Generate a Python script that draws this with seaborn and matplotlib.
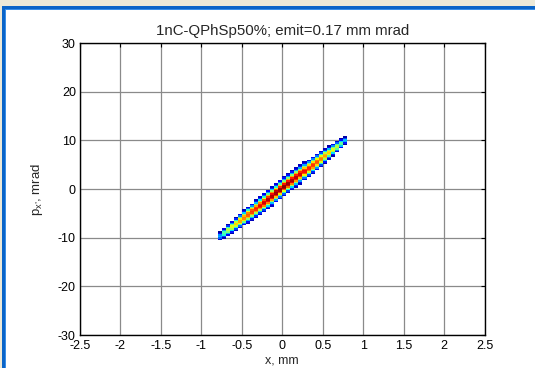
import numpy as np
import pandas as pd
import matplotlib
matplotlib.use("Agg")
import matplotlib.pyplot as plt
from matplotlib.patches import Rectangle
import seaborn as sns

# ---- data ----
title = "1nC-QPhSp50%; emit=0.17 mm mrad"
xlabel = "x, mm"
ylabel = "p$_{\\mathregular{x\u2019}}$, mrad"
xticks = [-2.5, -2, -1.5, -1, -0.5, 0, 0.5, 1, 1.5, 2, 2.5]
xtick_labels = ["-2.5", "-2", "-1.5", "-1", "-0.5", "0", "0.5", "1", "1.5", "2", "2.5"]
yticks = [-30, -20, -10, 0, 10, 20, 30]
ytick_labels = ["-30", "-20", "-10", "0", "10", "20", "30"]

# beam ridge, read along its length
ridge_x = [-0.80, -0.70, -0.55, -0.40, -0.20, 0.00, 0.20, 0.40, 0.55, 0.70, 0.78]
ridge_p = [-10.0, -8.8, -6.9, -5.0, -2.5, 0.2, 2.7, 5.2, 7.1, 9.0, 10.0]
ridge_amp = [0.22, 0.55, 0.72, 0.84, 0.94, 1.00, 0.94, 0.84, 0.72, 0.55, 0.30]
ridge_halfwidth = [0.8, 1.15, 1.5, 1.8, 2.0, 2.05, 2.0, 1.8, 1.5, 1.15, 0.8]

# histogram bins
xbin = 0.05
pbin = 0.3

# ---- build the 2D histogram table ----
xc = np.arange(-2.5 + xbin / 2, 2.5, xbin)
pc = np.arange(-30 + pbin / 2, 30, pbin)
rows = []
for x in xc:
    if x < ridge_x[0] - 0.02 or x > ridge_x[-1] + 0.02:
        continue
    cen = np.interp(x, ridge_x, ridge_p)
    amp = np.interp(x, ridge_x, ridge_amp)
    hw = np.interp(x, ridge_x, ridge_halfwidth)
    for p in pc:
        d = abs(p - cen)
        if d <= hw:
            rows.append((x, p, amp * np.exp(-3.0 * (d / hw) ** 2.5)))
df = pd.DataFrame(rows, columns=["x", "p", "w"])

# ---- figure ----
sns.set_style("white")
plt.rcParams["font.family"] = ["Liberation Sans", "DejaVu Sans"]
plt.rcParams["mathtext.fontset"] = "custom"
plt.rcParams["mathtext.rm"] = "Liberation Sans"
plt.rcParams["mathtext.it"] = "Liberation Sans:italic"

W, H = 535, 368
fig = plt.figure(figsize=(W / 100, H / 100), dpi=100)
fig.patch.set_facecolor("white")

# window frame (beige strip + blue border)
def px_rect(x0, y0, x1, y1, color):
    fig.patches.append(Rectangle((x0 / W, 1 - y1 / H), (x1 - x0) / W, (y1 - y0) / H,
                                 transform=fig.transFigure, color=color, lw=0, zorder=-5))
px_rect(0, 0, W, 6, "#ece9d8")
px_rect(0, 0, 2, H, "#ece9d8")
px_rect(2, 6, W, 9, "#0a64c8")
px_rect(2, 9, W, 10, "#3a8ee6")
px_rect(2, 6, 4.7, H, "#0a64c8")
px_rect(4.7, 9, 5.7, H, "#3a8ee6")

ax_l, ax_r, ax_t, ax_b = 80, 484.5, 43, 335
ax = fig.add_axes([ax_l / W, 1 - ax_b / H, (ax_r - ax_l) / W, (ax_b - ax_t) / H])
ax.set_facecolor("white")

sns.histplot(data=df, x="x", y="p", weights="w",
             binwidth=(xbin, pbin), binrange=((-2.5, 2.5), (-30, 30)),
             cmap=matplotlib.colormaps["jet"], vmin=0, vmax=1, ax=ax, zorder=2)

ax.set_xlim(-2.5, 2.5)
ax.set_ylim(-30, 30)
ax.set_xticks(xticks)
ax.set_xticklabels(xtick_labels)
ax.set_yticks(yticks)
ax.set_yticklabels(ytick_labels)
ax.tick_params(direction="in", length=3, width=0.8, top=True, right=True,
               labelsize=9, colors="black")
ax.tick_params(axis="x", pad=3.5)
ax.tick_params(axis="y", pad=3)
ax.grid(True, color="#8a8a8a", lw=0.9, ls="-")
ax.set_axisbelow(True)
for s in ax.spines.values():
    s.set_visible(True)
    s.set_color("black")
    s.set_linewidth(1.0)
    s.set_zorder(5)

ax.set_title(title, fontsize=10.8, pad=5.5)
ax.set_xlabel(xlabel, fontsize=9)
ax.set_ylabel(ylabel, fontsize=9.5)
ax.xaxis.set_label_coords(0.5, -0.066)
ax.yaxis.set_label_coords(-0.0865, 0.5)

fig.savefig("out.png", dpi=100, facecolor=fig.get_facecolor())
